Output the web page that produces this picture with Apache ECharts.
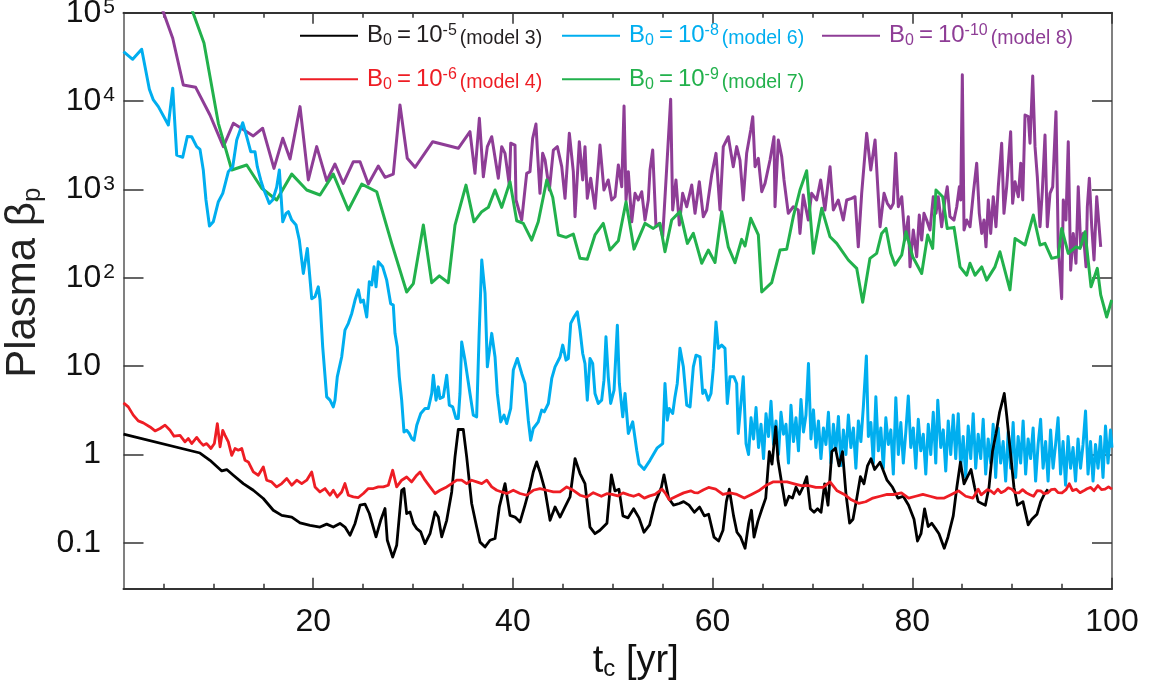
<!DOCTYPE html>
<html><head><meta charset="utf-8">
<script src="https://cdn.jsdelivr.net/npm/echarts@6/dist/echarts.min.js"></script>
<style>html,body{margin:0;padding:0;background:#fff}#c{width:1152px;height:686px}</style>
</head><body><div id="c"></div>
<script>
// ---------------- data ----------------
const xRange = [1, 100];
const yRange = [0.0303, 100000];
const xMajorTicks = [20, 40, 60, 80, 100];
const xMinorTicks = [5, 10, 15, 25, 30, 35, 45, 50, 55, 65, 70, 75, 85, 90, 95];

const seriesNames = ['model 3', 'model 4', 'model 6', 'model 7', 'model 8'];
const seriesExps = ['-5', '-6', '-8', '-9', '-10'];
const seriesColors = ['#000000', '#ee1d24', '#00aeef', '#22b14c', '#8e3d96'];

// model 3 : B0 = 1e-5  [t_c, beta_p]
const model3 = [[1.0,1.70],[8.66,1.04],[9.66,0.86],[10.84,0.652],[11.34,0.676],[12.0,0.583],[13.0,0.469],[14.0,0.394],[15.0,0.318],[16.0,0.234],[16.85,0.205],[17.85,0.196],[18.68,0.168],[19.68,0.158],[20.68,0.151],[21.35,0.163],[22.01,0.151],[22.68,0.166],[23.18,0.151],[23.69,0.122],[24.19,0.166],[24.69,0.267],[25.19,0.274],[25.62,0.215],[26.29,0.117],[26.76,0.18],[27.19,0.245],[27.42,0.107],[27.96,0.069],[28.36,0.094],[28.86,0.394],[29.09,0.412],[29.36,0.215],[29.69,0.224],[30.03,0.166],[30.37,0.145],[30.77,0.133],[31.2,0.098],[31.7,0.127],[32.2,0.224],[32.53,0.196],[32.87,0.117],[33.37,0.18],[33.87,0.377],[34.2,0.94],[34.53,1.92],[35.03,1.92],[35.37,0.94],[35.87,0.279],[36.37,0.151],[36.71,0.102],[37.21,0.09],[37.71,0.107],[38.21,0.112],[38.64,0.255],[39.21,0.469],[39.71,0.205],[40.21,0.196],[40.71,0.172],[41.21,0.267],[41.71,0.43],[42.04,0.635],[42.38,0.824],[42.71,0.635],[43.22,0.394],[43.72,0.18],[44.22,0.255],[44.72,0.196],[45.22,0.255],[45.72,0.331],[46.22,0.9],[46.72,0.609],[47.22,0.469],[47.72,0.151],[48.22,0.127],[48.72,0.139],[49.42,0.167],[49.86,0.589],[50.22,0.387],[50.62,0.405],[51.02,0.202],[51.53,0.192],[52.09,0.243],[52.63,0.192],[53.13,0.132],[53.69,0.16],[54.23,0.281],[54.87,0.426],[55.13,0.589],[55.59,0.321],[56.09,0.267],[56.66,0.279],[57.1,0.293],[57.64,0.267],[58.17,0.222],[58.7,0.254],[59.17,0.202],[59.6,0.211],[60.14,0.116],[60.6,0.105],[61.04,0.139],[61.38,0.293],[61.67,0.405],[62.1,0.202],[62.44,0.132],[62.81,0.116],[63.25,0.0869],[63.61,0.167],[63.89,0.234],[64.15,0.116],[64.54,0.176],[64.95,0.243],[65.32,0.321],[65.68,1.08],[65.95,0.777],[66.32,2.07],[66.55,0.86],[66.93,0.466],[67.29,0.267],[67.65,0.337],[68.0,0.321],[68.35,0.426],[68.71,0.355],[69.05,0.426],[69.43,0.562],[69.79,0.243],[70.16,0.222],[70.51,0.243],[70.86,0.222],[71.22,0.466],[71.56,0.267],[71.94,1.08],[72.3,1.18],[72.66,0.743],[73.01,1.08],[73.36,0.355],[73.72,0.167],[74.06,0.185],[74.44,0.321],[74.8,0.562],[75.16,0.466],[75.51,0.743],[75.86,0.894],[76.23,0.676],[76.77,0.818],[77.47,0.512],[78.02,0.426],[78.56,0.321],[79.09,0.337],[79.63,0.267],[80.17,0.185],[80.52,0.105],[80.87,0.127],[81.23,0.243],[81.59,0.153],[81.95,0.167],[82.31,0.146],[82.67,0.127],[83.2,0.0869],[83.57,0.116],[84.1,0.202],[84.46,0.426],[84.82,0.818],[85.18,0.466],[85.53,0.562],[85.88,0.676],[86.24,0.426],[86.6,0.293],[86.96,0.279],[87.32,0.267],[87.68,0.426],[88.03,1.08],[88.38,1.72],[88.74,3.01],[89.1,4.35],[89.21,4.91],[89.46,2.74],[89.82,1.08],[90.18,0.426],[90.53,0.267],[91.08,0.293],[91.61,0.16],[91.97,0.185],[92.49,0.211],[92.86,0.293],[93.22,0.355],[93.58,0.405]];

// model 4 : B0 = 1e-6
const model4 = [[1.0,3.84],[1.48,3.46],[1.98,2.79],[2.48,2.40],[2.98,2.28],[3.66,2.05],[4.16,1.85],[4.66,1.97],[5.16,2.15],[5.66,1.88],[6.06,1.61],[6.66,1.65],[7.16,1.39],[7.49,1.52],[7.83,1.33],[8.33,1.56],[8.66,1.39],[8.99,1.27],[9.33,1.33],[9.76,1.17],[10.1,1.33],[10.4,2.24],[10.67,1.22],[10.94,1.88],[11.17,1.65],[11.5,1.39],[11.84,0.98],[12.17,1.17],[12.5,1.12],[12.84,1.17],[13.17,0.86],[13.5,0.824],[14.0,0.635],[14.5,0.583],[15.0,0.724],[15.34,0.512],[15.84,0.49],[16.34,0.43],[16.85,0.469],[17.35,0.535],[17.85,0.449],[18.35,0.512],[18.85,0.469],[19.35,0.512],[19.85,0.635],[20.18,0.43],[20.68,0.377],[21.18,0.412],[21.68,0.346],[22.01,0.394],[22.41,0.331],[22.85,0.377],[23.18,0.469],[23.52,0.346],[24.02,0.331],[24.52,0.326],[25.02,0.362],[25.52,0.412],[26.02,0.412],[26.52,0.43],[27.02,0.43],[27.52,0.449],[27.96,0.664],[28.36,0.43],[28.86,0.512],[29.36,0.557],[29.86,0.49],[30.37,0.583],[30.7,0.635],[31.2,0.512],[31.7,0.43],[32.2,0.362],[32.7,0.394],[33.37,0.43],[33.87,0.469],[34.37,0.512],[34.87,0.512],[35.37,0.469],[35.87,0.512],[36.37,0.49],[36.88,0.469],[37.38,0.512],[37.88,0.43],[38.38,0.394],[38.88,0.377],[39.38,0.362],[40.04,0.394],[40.71,0.362],[41.38,0.346],[42.04,0.394],[42.71,0.412],[43.39,0.394],[44.05,0.377],[44.72,0.377],[45.39,0.43],[46.05,0.394],[46.72,0.346],[47.39,0.33],[48.05,0.37],[48.86,0.337],[49.4,0.36],[49.93,0.353],[50.5,0.34],[51.03,0.368],[51.6,0.35],[52.09,0.337],[52.6,0.355],[53.16,0.321],[53.7,0.34],[54.23,0.353],[54.93,0.405],[55.3,0.36],[55.66,0.307],[56.37,0.337],[57.1,0.368],[57.81,0.388],[58.2,0.37],[58.53,0.368],[59.1,0.4],[59.6,0.424],[60.31,0.405],[61.03,0.353],[61.74,0.368],[62.44,0.353],[63.17,0.321],[63.89,0.353],[64.61,0.388],[65.32,0.445],[66.04,0.49],[66.75,0.49],[67.45,0.49],[68.18,0.466],[68.89,0.445],[69.61,0.445],[70.33,0.424],[71.05,0.424],[71.76,0.49],[72.47,0.388],[73.19,0.353],[73.9,0.307],[74.62,0.28],[75.33,0.292],[76.05,0.321],[76.77,0.337],[77.48,0.353],[78.2,0.353],[78.91,0.368],[79.63,0.321],[80.34,0.337],[81.06,0.353],[81.77,0.337],[82.47,0.321],[83.2,0.321],[83.92,0.353],[84.64,0.388],[85.35,0.337],[86.07,0.321],[86.6,0.405],[86.9,0.35],[87.14,0.368],[87.5,0.4],[87.85,0.388],[88.2,0.36],[88.57,0.405],[88.9,0.37],[89.28,0.388],[89.6,0.42],[89.98,0.405],[90.3,0.37],[90.68,0.368],[91.05,0.4],[91.43,0.368],[91.8,0.35],[92.15,0.337],[92.5,0.39],[92.86,0.388],[93.2,0.36],[93.58,0.368],[93.9,0.4],[94.29,0.405],[94.6,0.37],[94.99,0.368],[95.4,0.4],[95.72,0.466],[96.05,0.39],[96.43,0.405],[96.8,0.37],[97.16,0.388],[97.5,0.41],[97.87,0.424],[98.2,0.39],[98.59,0.445],[98.95,0.4],[99.3,0.405],[99.65,0.43],[100.0,0.405]];

// model 6 : B0 = 1e-8
const model6 = [[1.0,36200],[1.92,29700],[2.82,38600],[3.59,13600],[3.99,10300],[4.49,8650],[5.49,5360],[5.93,14000],[6.33,2450],[6.93,2310],[7.39,3970],[7.83,3950],[8.33,3050],[8.66,2840],[8.99,1660],[9.26,759],[9.61,385],[9.99,430],[10.5,726],[10.94,903],[11.5,1590],[11.94,1810],[12.34,3630],[12.94,5690],[13.34,3950],[13.74,2670],[14.17,2670],[14.4,1810],[14.74,1280],[15.0,1030],[15.34,827],[15.6,696],[15.94,759],[16.34,1060],[16.61,1660],[16.95,430],[17.28,536],[17.51,560],[17.85,450],[18.28,395],[18.61,267],[19.01,112],[19.41,215],[19.85,58],[20.18,61],[20.51,79],[20.68,56],[20.95,16.5],[21.35,4.49],[21.68,4.12],[22.01,3.46],[22.18,4.12],[22.41,7.57],[22.61,7.57],[22.85,12.7],[23.18,25.6],[23.52,30.5],[23.86,39.5],[24.19,56],[24.52,73],[24.76,53],[25.02,56],[25.36,36],[25.62,90],[25.86,83],[26.09,133],[26.29,79],[26.52,152],[26.96,133],[27.36,94],[27.76,51],[28.02,49],[28.19,23.5],[28.42,16.5],[28.62,7.57],[28.86,4.12],[29.09,1.80],[29.36,1.88],[29.62,1.73],[29.86,1.52],[30.1,1.45],[30.37,2.15],[30.77,2.91],[31.2,3.32],[31.53,3.32],[31.87,4.91],[32.03,7.91],[32.3,4.12],[32.53,5.83],[32.7,4.31],[33.03,4.49],[33.37,7.91],[33.63,3.62],[33.97,3.46],[34.3,2.56],[34.53,2.56],[34.7,4.91],[34.87,18.8],[35.2,11.7],[35.7,4.91],[36.03,2.79],[36.37,2.67],[36.61,21.5],[36.88,159],[37.21,66.5],[37.44,9.82],[37.88,23.5],[38.21,12.7],[38.44,4.91],[38.78,2.34],[39.11,2.79],[39.38,2.24],[39.78,3.32],[40.04,9.02],[40.44,12.2],[40.88,8.27],[41.21,6.37],[41.54,2.45],[41.78,1.45],[42.04,1.97],[42.54,2.34],[42.88,3.18],[43.14,3.04],[43.55,3.78],[43.89,7.26],[44.22,9.82],[44.72,12.7],[44.99,17.3],[45.32,11.7],[45.55,12.2],[45.79,30.5],[46.12,36],[46.45,41.2],[46.72,25.6],[46.99,13.9],[47.22,10.7],[47.45,4.12],[47.72,12.2],[47.99,10.7],[48.22,4.91],[48.55,3.78],[48.89,4.12],[49.12,6.94],[49.32,21.5],[49.55,7.57],[49.79,3.78],[50.13,5.35],[50.46,29.1],[50.66,6.37],[51.0,2.67],[51.23,4.91],[51.56,1.73],[52.0,2.34],[52.4,1.12],[52.63,0.78],[53.13,0.68],[53.73,0.86],[54.43,1.18],[55.0,1.33],[55.23,6.37],[55.46,2.45],[55.66,3.32],[56.0,2.91],[56.23,4.49],[56.46,6.37],[56.73,15.9],[57.07,9.82],[57.41,3.62],[57.74,3.46],[58.07,9.82],[58.34,13.3],[58.74,12.7],[59.01,4.91],[59.24,5.35],[59.57,4.12],[59.84,4.91],[60.07,9.42],[60.34,31.7],[60.57,15.9],[60.91,17.3],[61.24,15.9],[61.47,3.78],[61.74,7.57],[62.14,7.57],[62.41,6.37],[62.57,1.73],[63.07,7.57],[63.35,1.33],[63.6,1.0],[63.85,2.6],[64.1,1.5],[64.35,3.4],[64.6,1.2],[64.85,2.2],[65.1,0.9],[65.35,2.9],[65.6,1.6],[65.85,4.0],[66.1,1.3],[66.35,2.4],[66.6,1.0],[66.85,3.0],[67.1,1.7],[67.35,2.2],[67.6,0.8],[67.85,3.6],[68.1,1.4],[68.35,2.6],[68.6,1.1],[68.85,4.2],[69.1,1.8],[69.35,2.8],[69.6,10.7],[69.85,1.5],[70.1,3.2],[70.35,1.2],[70.6,2.4],[70.85,0.9],[71.1,2.0],[71.35,1.3],[71.6,3.0],[71.85,0.8],[72.1,2.2],[72.35,1.1],[72.6,2.7],[72.85,0.75],[73.1,1.9],[73.35,1.0],[73.6,2.8],[73.85,1.2],[74.1,2.0],[74.35,0.7],[74.6,2.4],[74.85,1.4],[75.1,3.5],[75.4,13],[75.6,1.6],[75.85,2.3],[76.1,0.8],[76.35,4.5],[76.6,1.1],[76.85,2.0],[77.1,0.7],[77.35,2.6],[77.6,1.3],[77.85,1.9],[78.1,0.6],[78.35,4.4],[78.6,1.0],[78.85,2.3],[79.1,0.8],[79.35,1.8],[79.6,4.6],[79.85,1.2],[80.1,2.0],[80.35,0.7],[80.6,2.5],[80.85,1.1],[81.1,1.7],[81.35,0.6],[81.6,2.2],[81.85,1.0],[82.1,3.0],[82.35,0.8],[82.55,4.1],[82.85,1.2],[83.1,1.9],[83.35,0.65],[83.6,2.4],[83.85,1.0],[84.1,2.8],[84.35,0.9],[84.6,2.9],[84.85,0.7],[85.1,1.6],[85.35,0.55],[85.6,2.1],[85.85,0.9],[86.1,2.9],[86.35,0.7],[86.6,1.7],[86.85,0.9],[87.1,2.5],[87.35,0.6],[87.6,1.5],[87.85,0.8],[88.1,2.2],[88.35,0.55],[88.6,2.0],[88.85,0.8],[89.1,1.4],[89.35,0.5],[89.6,1.8],[89.85,0.7],[90.1,2.3],[90.35,0.55],[90.6,1.6],[90.85,0.8],[91.1,2.4],[91.35,0.6],[91.6,1.5],[91.85,0.9],[92.1,2.0],[92.35,0.5],[92.6,1.3],[92.85,2.5],[93.1,0.7],[93.35,1.4],[93.6,0.5],[93.85,1.9],[94.1,0.7],[94.35,1.3],[94.6,2.6],[94.85,0.6],[95.1,1.4],[95.35,0.45],[95.6,1.6],[95.85,0.7],[96.1,1.2],[96.35,0.5],[96.6,1.5],[96.85,0.7],[97.1,1.3],[97.35,3.1],[97.6,0.6],[97.85,1.4],[98.1,0.5],[98.35,1.3],[98.6,0.7],[98.85,1.6],[99.1,0.55],[99.35,2.1],[99.6,0.8],[99.85,1.9],[100,1.2]];

// model 7 : B0 = 1e-9
const model7 = [[7.0,200000],[9.06,45500],[10.5,5600],[11.84,1660],[13.34,1890],[14.84,1030],[16.34,759],[17.85,1490],[19.35,985],[20.68,865],[22.01,1490],[23.52,585],[24.86,1150],[26.36,942],[27.86,245],[29.36,69],[30.03,86],[31.03,395],[31.87,88],[32.63,105],[33.53,88],[34.2,395],[35.3,1120],[36.1,430],[36.88,560],[37.54,627],[38.21,985],[38.88,627],[39.71,1220],[40.38,442],[41.04,413],[41.88,267],[42.54,430],[43.39,1280],[43.99,813],[44.55,305],[45.32,287],[46.05,313],[46.72,166],[47.45,162],[48.22,305],[49.05,413],[49.72,206],[50.56,262],[51.33,726],[52.13,211],[53.23,413],[54.06,362],[54.73,413],[55.23,197],[55.9,450],[56.73,560],[57.47,245],[58.07,318],[58.91,146],[59.57,206],[60.24,149],[60.91,560],[61.57,224],[62.24,148],[62.91,272],[63.25,229],[63.82,471],[64.58,305],[64.92,69],[65.92,88],[66.75,206],[67.42,210],[68.08,491],[68.75,985],[69.42,1630],[70.09,189],[70.93,611],[71.76,291],[72.43,245],[73.59,159],[74.43,128],[75.03,53],[75.76,166],[76.43,189],[76.93,318],[77.37,362],[77.84,189],[78.27,139],[78.94,181],[79.37,332],[80.04,173],[80.94,112],[81.54,305],[82.04,215],[82.37,985],[83.04,827],[83.5,362],[84.18,372],[84.78,133],[85.45,107],[85.78,146],[86.28,107],[86.95,133],[87.45,94],[88.28,133],[88.78,197],[89.78,73],[90.29,279],[91.29,235],[92.12,513],[92.79,235],[93.29,245],[93.96,166],[94.62,173],[94.96,362],[95.62,189],[96.39,224],[96.8,215],[97.3,332],[97.9,79],[98.53,128],[98.87,64],[99.47,36],[99.97,56]];

// model 8 : B0 = 1e-10
const model8 = [[4.2,180000],[5.93,51400],[6.99,15200],[8.23,14300],[9.66,6960],[11.0,3050],[12.0,5610],[13.34,4500],[14.0,4030],[14.94,4920],[16.07,1730],[16.95,3790],[17.68,2210],[18.68,8650],[19.51,1280],[20.35,3050],[21.35,1250],[22.18,1940],[23.01,1170],[24.02,2060],[24.69,2060],[25.52,1150],[26.52,1840],[27.19,1370],[28.02,1490],[28.69,9040],[29.42,2250],[30.2,1780],[31.97,3470],[34.53,2920],[35.7,4500],[36.2,1520],[36.64,6390],[37.04,1390],[37.44,3050],[37.88,3950],[38.54,1340],[38.88,3050],[39.21,2560],[39.64,1120],[39.78,3330],[40.21,3180],[40.31,759],[40.88,450],[41.38,1520],[41.71,1590],[41.98,3790],[42.31,5500],[42.44,2920],[42.71,903],[42.98,2560],[43.22,2150],[43.65,985],[44.05,2790],[44.45,3050],[44.89,1810],[45.22,793],[45.65,4320],[46.05,1590],[46.22,491],[46.65,3470],[46.99,1280],[47.22,3050],[47.45,793],[47.79,1340],[48.22,611],[48.72,3180],[49.12,985],[49.55,1280],[49.89,759],[50.23,827],[50.56,1890],[50.9,1070],[51.13,8800],[51.33,759],[51.56,1590],[51.9,430],[52.23,903],[52.56,759],[52.9,942],[53.23,450],[53.56,759],[53.73,1660],[54.0,2790],[54.33,378],[54.66,413],[55.0,291],[55.4,1730],[55.8,10500],[56.0,585],[56.33,1280],[56.67,395],[57.0,903],[57.41,637],[57.91,1120],[58.24,536],[58.67,1220],[59.07,491],[59.41,585],[59.91,1460],[60.34,2560],[60.74,585],[61.07,3050],[61.57,3950],[62.07,1810],[62.41,3050],[62.74,2150],[63.07,759],[63.41,2560],[63.82,4710],[64.02,6660],[64.25,1810],[64.58,2250],[64.92,942],[65.25,1170],[65.75,2150],[66.15,3950],[66.25,637],[66.58,3630],[66.92,2350],[67.15,1280],[67.58,536],[68.08,637],[68.58,585],[68.75,318],[69.08,865],[69.58,450],[69.92,903],[70.42,759],[70.82,1280],[71.25,585],[71.76,1810],[72.09,585],[72.59,759],[73.09,450],[73.43,759],[73.93,793],[74.26,827],[74.59,224],[74.93,903],[75.43,4320],[75.84,1660],[76.27,3630],[76.77,378],[77.17,903],[77.5,696],[77.84,611],[78.1,696],[78.34,2560],[78.6,637],[78.94,827],[79.27,267],[79.6,491],[79.77,133],[80.1,347],[80.44,173],[80.7,513],[80.94,267],[81.17,536],[81.44,450],[81.77,347],[82.1,827],[82.37,536],[82.6,827],[82.94,378],[83.27,759],[83.5,1070],[83.77,491],[84.17,450],[84.45,637],[84.71,1070],[84.85,759],[85.01,19800],[85.18,347],[85.45,450],[85.78,378],[86.11,903],[86.45,1980],[86.71,536],[86.95,318],[87.18,450],[87.38,224],[87.61,759],[87.85,318],[88.11,827],[88.38,378],[88.61,1070],[88.95,3330],[89.18,536],[89.45,1070],[89.85,4500],[90.05,696],[90.29,1220],[90.62,827],[90.86,1980],[91.06,759],[91.29,6960],[91.62,6660],[91.79,3330],[92.06,19200],[92.29,3050],[92.52,1390],[92.79,378],[93.02,942],[93.29,4130],[93.52,378],[93.79,903],[94.06,1070],[94.39,7590],[94.62,224],[94.96,58],[95.12,759],[95.39,450],[95.62,3470],[95.86,122],[96.12,318],[96.39,146],[96.62,1070],[96.87,224],[97.13,318],[97.4,133],[97.53,637],[97.73,1340],[97.97,378],[98.2,159],[98.47,827],[98.87,224]];

// ---------------- chart ----------------
const FONT = '"Liberation Sans", Arial, Helvetica, sans-serif';
const chart = echarts.init(document.getElementById('c'), null, {renderer: 'canvas'});

const dataByName = {'model 3': model3, 'model 4': model4, 'model 6': model6, 'model 7': model7, 'model 8': model8};
const drawOrder = ['model 8', 'model 7', 'model 6', 'model 3', 'model 4'];
const lineWidths = {'model 3': 2.8, 'model 4': 2.8, 'model 6': 3, 'model 7': 3, 'model 8': 3};

function colorOf(name) { return seriesColors[seriesNames.indexOf(name)]; }

function legendCfg(name, left, top) {
  const i = seriesNames.indexOf(name);
  const col = seriesColors[i] === '#000000' ? '#231f20' : seriesColors[i];
  return {
    data: [name], left: left, top: top, padding: 0, itemGap: 0,
    icon: 'rect', itemWidth: 58, itemHeight: 2,
    selectedMode: false,
    formatter: function () {
      return '{b0|B}{s|0}{q|=}{b|10}{e|' + seriesExps[i] + '}{m|(' + name + ')}';
    },
    textStyle: {
      color: col, fontFamily: FONT,
      rich: {
        b0: {fontSize: 24, lineHeight: 26, verticalAlign: 'middle', color: col, fontFamily: FONT, padding: [0, 0, 0, 4]},
        b: {fontSize: 24, lineHeight: 26, verticalAlign: 'middle', color: col, fontFamily: FONT},
        q: {fontSize: 24, lineHeight: 26, verticalAlign: 'middle', color: col, fontFamily: FONT, padding: [0, 5, 0, 5]},
        s: {fontSize: 16, lineHeight: 20, verticalAlign: 'bottom', color: col, fontFamily: FONT},
        e: {fontSize: 16, lineHeight: 24, verticalAlign: 'top', color: col, fontFamily: FONT},
        m: {fontSize: 19.5, lineHeight: 20, verticalAlign: 'bottom', color: col, fontFamily: FONT, padding: [0, 0, 0, 3]}
      }
    }
  };
}

function yLabel(v) {
  const e = Math.log10(v);
  const r = Math.round(e);
  if (Math.abs(e - r) > 1e-6) return '';
  if (r >= 2) return '{n|10}{e|' + r + '}';
  if (r === 1) return '{p|10}';
  if (r === 0) return '{p|1}';
  if (r === -1) return '{p|0.1}';
  return '';
}

const xBase = {type: 'value', min: xRange[0], max: xRange[1], splitLine: {show: false}, axisPointer: {show: false}};

const option = {
  animation: false,
  backgroundColor: '#ffffff',
  textStyle: {fontFamily: FONT},
  grid: {left: 123.5, right: 40, top: 12.7, bottom: 97.3, containLabel: false, outerBoundsMode: 'none'},
  legend: [
    legendCfg('model 3', 300, 22.7),
    legendCfg('model 6', 562, 22.7),
    legendCfg('model 8', 822, 22.7),
    legendCfg('model 4', 300, 66.3),
    legendCfg('model 7', 562, 66.3)
  ],
  xAxis: [
    Object.assign({}, xBase, {
      position: 'bottom',
      axisLine: {show: true, lineStyle: {color: '#333', width: 2}},
      axisTick: {show: true, inside: true, length: 11, customValues: xMajorTicks, lineStyle: {color: '#333', width: 1.5}},
      axisLabel: {show: true, customValues: xMajorTicks, fontSize: 32, color: '#111', margin: 17, fontFamily: FONT},
      name: '{t|t}{c|c}{t| [yr]}', nameLocation: 'middle', nameGap: 45,
      nameTextStyle: {padding: [0, 0, 0, 36], rich: {
        t: {fontSize: 38, lineHeight: 40, verticalAlign: 'middle', color: '#111', fontFamily: FONT},
        c: {fontSize: 24, lineHeight: 24, verticalAlign: 'bottom', color: '#111', fontFamily: FONT}
      }}
    }),
    Object.assign({}, xBase, {
      position: 'bottom', axisLine: {show: false},
      axisTick: {show: true, inside: true, length: 5, customValues: xMinorTicks, lineStyle: {color: '#333', width: 1.5}},
      axisLabel: {show: false}
    }),
    Object.assign({}, xBase, {
      position: 'top',
      axisLine: {show: true, lineStyle: {color: '#333', width: 2}},
      axisTick: {show: true, inside: true, length: 11, customValues: xMajorTicks, lineStyle: {color: '#333', width: 1.5}},
      axisLabel: {show: false}
    }),
    Object.assign({}, xBase, {
      position: 'top', axisLine: {show: false},
      axisTick: {show: true, inside: true, length: 5, customValues: xMinorTicks, lineStyle: {color: '#333', width: 1.5}},
      axisLabel: {show: false}
    })
  ],
  yAxis: [
    {
      type: 'log', logBase: 10, min: yRange[0], max: yRange[1], position: 'left',
      splitLine: {show: false},
      axisLine: {show: true, lineStyle: {color: '#808080', width: 2}},
      axisTick: {show: true, inside: true, length: 20, lineStyle: {color: '#333', width: 1.5}},
      axisLabel: {
        show: true, margin: 8.5, formatter: yLabel, color: '#111', fontFamily: FONT,
        rich: {
          n: {fontSize: 32, lineHeight: 32, verticalAlign: 'middle', color: '#111', fontFamily: FONT},
          e: {fontSize: 21, lineHeight: 18, verticalAlign: 'top', color: '#111', fontFamily: FONT, padding: [0, 0, 0, 2]},
          p: {fontSize: 32, lineHeight: 32, verticalAlign: 'middle', color: '#111', fontFamily: FONT, padding: [0, 14, 0, 0]}
        }
      },
      name: '{a|Plasma β}{p|p}', nameLocation: 'middle', nameGap: 72,
      nameTextStyle: {padding: [0, 0, 0, 36], rich: {
        a: {fontSize: 42, lineHeight: 44, verticalAlign: 'middle', color: '#222', fontFamily: FONT},
        p: {fontSize: 26, lineHeight: 26, verticalAlign: 'bottom', color: '#222', fontFamily: FONT}
      }}
    },
    {
      type: 'log', logBase: 10, min: yRange[0], max: yRange[1], position: 'right',
      splitLine: {show: false},
      axisLine: {show: true, lineStyle: {color: '#808080', width: 2}},
      axisTick: {show: true, inside: true, length: 20, lineStyle: {color: '#333', width: 1.5}},
      axisLabel: {show: false}
    }
  ],
  series: drawOrder.map(function (name) {
    return {
      name: name, type: 'line', xAxisIndex: 0, yAxisIndex: 0,
      data: dataByName[name], showSymbol: false, symbol: 'none',
      clip: true, smooth: false,
      itemStyle: {color: colorOf(name)},
      lineStyle: {color: colorOf(name), width: lineWidths[name], join: 'round'},
      emphasis: {disabled: true}
    };
  })
};
chart.setOption(option);
</script>
</body></html>
